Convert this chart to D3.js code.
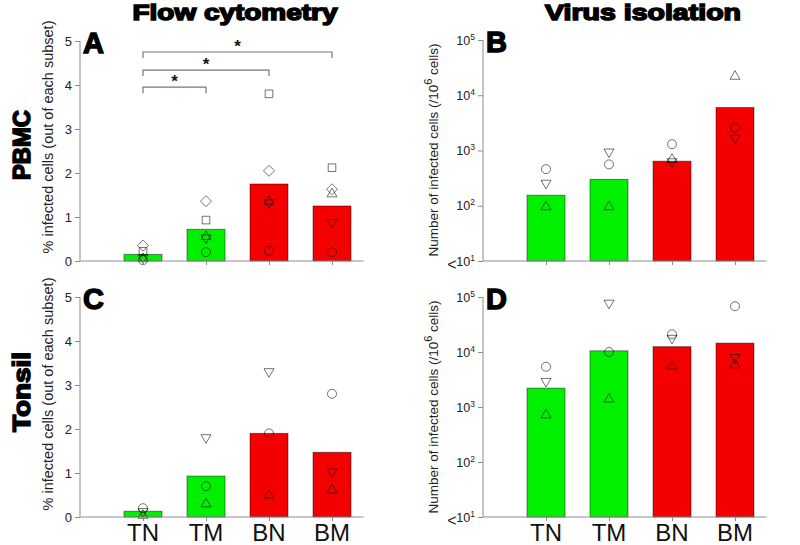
<!DOCTYPE html>
<html>
<head>
<meta charset="utf-8">
<script src="https://cdn.jsdelivr.net/npm/d3@7/dist/d3.min.js"></script>
<style>
  html, body { margin: 0; padding: 0; background: #fff; }
  svg { display: block; font-family: "Liberation Sans", Arial, sans-serif; }
</style>
</head>
<body>
<svg id="chart" width="800" height="545"></svg>
<script>
// ---------------- DATA ----------------
const categories = ["TN", "TM", "BN", "BM"];
const linearTicks = [0, 1, 2, 3, 4, 5];
const logTicks = [10, 100, 1000, 10000, 100000];
const logTickExponents = ["1", "2", "3", "4", "5"];

// Panel A: flow cytometry, PBMC (% infected)
const flowPBMCBars     = [0.15, 0.72, 1.75, 1.25];
const flowPBMCCircle   = [0.02, 0.20, 0.23, 0.20];
const flowPBMCTriUp    = [0.08, 0.58, 1.38, 1.55];
const flowPBMCTriDown  = [0.05, 0.50, 1.30, 0.85];
const flowPBMCSquare   = [0.22, 0.93, 3.80, 2.12];
const flowPBMCDiamond  = [0.35, 1.36, 2.05, 1.63];

// significance brackets in panel A: [from, to, level]
const sigFrom   = [0, 0, 0];
const sigTo     = [1, 2, 3];
const sigLevel  = [3.95, 4.34, 4.75];

// Panel C: flow cytometry, Tonsil
const flowTonsilBars    = [0.13, 0.93, 1.90, 1.47];
const flowTonsilCircle  = [0.20, 0.70, 1.90, 2.80];
const flowTonsilTriUp   = [0.06, 0.32, 0.52, 0.64];
const flowTonsilTriDown = [0.10, 1.78, 3.28, 1.00];

// Panel B: virus isolation, PBMC (per 10^6 cells)
const virusPBMCBars    = [155, 300, 640, 6000];
const virusPBMCCircle  = [460, 560, 1300, 2600];
const virusPBMCTriUp   = [100, 100, 720, 23000];
const virusPBMCTriDown = [245, 900, 600, 1600];

// Panel D: virus isolation, Tonsil
const virusTonsilBars    = [2200, 10500, 12500, 14500];
const virusTonsilCircle  = [5400, 10000, 21000, 68000];
const virusTonsilTriUp   = [750, 1450, 5800, 6100];
const virusTonsilTriDown = [2800, 74000, 17000, 7600];

const barColors = ["#00f000", "#00f000", "#f50000", "#f50000"];

// ---------------- DRAWING ----------------
const svg = d3.select("#chart");
const AXIS_COLOR = "#8c8c8c";
const MARK_STROKE = "rgba(0,0,0,0.55)";

const shapes = {
  circle:   "M4.5,0A4.5,4.5 0 1,1 -4.5,0A4.5,4.5 0 1,1 4.5,0Z",
  square:   "M-3.8,-3.8H3.8V3.8H-3.8Z",
  diamond:  "M0,-5.5L5.5,0L0,5.5L-5.5,0Z",
  triUp:    "M0,-4.6L5,4L-5,4Z",
  triDown:  "M0,4.6L5,-4L-5,-4Z"
};

function drawPanel(cfg) {
  const g = svg.append("g");
  const x = d3.scaleLinear().domain([0, 4.5]).range([cfg.x0, cfg.x0 + 283.5]);
  let y;
  if (cfg.log) {
    y = d3.scaleLog().domain([10, 100000]).range([cfg.yBottom, cfg.yTop]);
  } else {
    y = d3.scaleLinear().domain([0, 5]).range([cfg.yBottom, cfg.yTop]);
  }
  const base = cfg.log ? 10 : 0;
  const barW = 38;

  // bars
  g.selectAll("rect.bar").data(cfg.bars).enter().append("rect")
    .attr("class", "bar")
    .attr("x", (d, i) => x(i + 1) - barW / 2)
    .attr("y", d => y(d))
    .attr("width", barW)
    .attr("height", d => y(base) - y(d))
    .attr("fill", (d, i) => barColors[i])
    .attr("stroke", "rgba(0,0,0,0.45)")
    .attr("stroke-width", 1);

  // markers
  cfg.markers.forEach(m => {
    g.selectAll(null).data(m.values).enter().append("path")
      .attr("d", shapes[m.shape])
      .attr("transform", (d, i) => `translate(${x(i + 1)},${y(d)})`)
      .attr("fill", "none")
      .attr("stroke", MARK_STROKE)
      .attr("stroke-width", 1);
  });

  // y axis
  const yAxis = cfg.log
    ? d3.axisLeft(y).tickValues(logTicks).tickSize(5).tickFormat("")
    : d3.axisLeft(y).tickValues(linearTicks).tickSize(5).tickFormat(d3.format("d"));
  const ya = g.append("g").attr("transform", `translate(${cfg.x0},0)`).call(yAxis);
  ya.select(".domain").attr("stroke", AXIS_COLOR).attr("d", `M0,${cfg.yTop}V${cfg.yBottom}`);
  ya.selectAll(".tick line").attr("stroke", AXIS_COLOR);
  ya.selectAll(".tick text").attr("font-size", 13).attr("fill", "#222")
    .attr("font-family", "Liberation Sans, Arial, sans-serif").attr("x", -8);

  if (cfg.log) {
    logTicks.forEach((t, i) => {
      const tx = g.append("text")
        .attr("x", cfg.x0 - 8)
        .attr("y", y(t) + 4.5)
        .attr("text-anchor", "end")
        .attr("font-size", 12.5)
        .attr("fill", "#222");
      tx.append("tspan").text("10");
      tx.append("tspan").attr("dy", -5).attr("font-size", 8.5).text(logTickExponents[i]);
      if (i === 0) {
        g.append("text")
          .attr("x", cfg.x0 - 31)
          .attr("y", y(t) + 9)
          .attr("text-anchor", "middle")
          .attr("font-size", 16)
          .attr("fill", "#222")
          .text("<");
      }
    });
  }

  // x axis
  const xAxis = d3.axisBottom(x).tickValues([1, 2, 3, 4]).tickSize(4).tickFormat("");
  const xa = g.append("g").attr("transform", `translate(0,${cfg.yBottom})`).call(xAxis);
  xa.select(".domain").attr("stroke", AXIS_COLOR).attr("d", `M${cfg.x0},0H${cfg.x0 + 283.5}`);
  xa.selectAll(".tick line").attr("stroke", AXIS_COLOR);

  if (cfg.showCats) {
    g.selectAll("text.cat").data(categories).enter().append("text")
      .attr("class", "cat")
      .attr("x", (d, i) => x(i + 1))
      .attr("y", cfg.yBottom + 24)
      .attr("text-anchor", "middle")
      .attr("font-size", 24)
      .attr("fill", "#111")
      .text(d => d);
  }

  // panel letter
  g.append("text")
    .attr("x", cfg.x0 + 3)
    .attr("y", cfg.yTop + 12)
    .attr("font-size", 29)
    .attr("font-weight", "bold")
    .attr("stroke", "#000").attr("stroke-width", 1.4)
    .attr("fill", "#000")
    .text(cfg.letter);

  // significance brackets
  if (cfg.sig) {
    sigFrom.forEach((f, i) => {
      const x1 = x(f + 1), x2 = x(sigTo[i] + 1), yy = y(sigLevel[i]);
      g.append("path")
        .attr("d", `M${x1},${yy + 6}V${yy}H${x2}V${yy + 6}`)
        .attr("fill", "none")
        .attr("stroke", "#777")
        .attr("stroke-width", 1.2);
      g.append("text")
        .attr("x", (x1 + x2) / 2)
        .attr("y", yy - 0.5)
        .attr("text-anchor", "middle")
        .attr("font-size", 17)
        .attr("font-weight", "bold")
        .attr("fill", "#111")
        .text("*");
    });
  }
  return { x, y };
}

// Panel A
drawPanel({
  x0: 80, yTop: 41, yBottom: 261, log: false, letter: "A", sig: true, showCats: false,
  bars: flowPBMCBars,
  markers: [
    { shape: "circle", values: flowPBMCCircle },
    { shape: "triUp", values: flowPBMCTriUp },
    { shape: "triDown", values: flowPBMCTriDown },
    { shape: "square", values: flowPBMCSquare },
    { shape: "diamond", values: flowPBMCDiamond }
  ]
});
// Panel C
drawPanel({
  x0: 80, yTop: 297, yBottom: 517, log: false, letter: "C", sig: false, showCats: true,
  bars: flowTonsilBars,
  markers: [
    { shape: "circle", values: flowTonsilCircle },
    { shape: "triUp", values: flowTonsilTriUp },
    { shape: "triDown", values: flowTonsilTriDown }
  ]
});
// Panel B
drawPanel({
  x0: 483, yTop: 40, yBottom: 261, log: true, letter: "B", sig: false, showCats: false,
  bars: virusPBMCBars,
  markers: [
    { shape: "circle", values: virusPBMCCircle },
    { shape: "triUp", values: virusPBMCTriUp },
    { shape: "triDown", values: virusPBMCTriDown }
  ]
});
// Panel D
drawPanel({
  x0: 483, yTop: 297, yBottom: 517, log: true, letter: "D", sig: false, showCats: true,
  bars: virusTonsilBars,
  markers: [
    { shape: "circle", values: virusTonsilCircle },
    { shape: "triUp", values: virusTonsilTriUp },
    { shape: "triDown", values: virusTonsilTriDown }
  ]
});

// Column titles
[["Flow cytometry", 235, 205], ["Virus isolation", 643, 196]].forEach(([t, cx, w]) => {
  svg.append("text")
    .attr("x", cx).attr("y", 20)
    .attr("text-anchor", "middle")
    .attr("font-size", 22)
    .attr("font-weight", "bold")
    .attr("stroke", "#000").attr("stroke-width", 1.5)
    .attr("fill", "#000")
    .attr("textLength", w)
    .attr("lengthAdjust", "spacingAndGlyphs")
    .text(t);
});

// Row titles
[["PBMC", 145, 70], ["Tonsil", 392, 80]].forEach(([t, cy, w]) => {
  svg.append("text")
    .attr("transform", `translate(30,${cy}) rotate(-90)`)
    .attr("text-anchor", "middle")
    .attr("font-size", 23)
    .attr("font-weight", "bold")
    .attr("stroke", "#000").attr("stroke-width", 1.5)
    .attr("fill", "#000")
    .attr("textLength", w)
    .attr("lengthAdjust", "spacingAndGlyphs")
    .text(t);
});

// Left y-axis labels
[137, 394].forEach(cy => {
  svg.append("text")
    .attr("transform", `translate(53,${cy}) rotate(-90)`)
    .attr("text-anchor", "middle")
    .attr("font-size", 14.5)
    .attr("fill", "#222")
    .text("% infected cells (out of each subset)");
});

// Right y-axis labels
[150, 407].forEach(cy => {
  const t = svg.append("text")
    .attr("transform", `translate(438,${cy}) rotate(-90)`)
    .attr("text-anchor", "middle")
    .attr("font-size", 13.5)
    .attr("fill", "#222");
  t.append("tspan").text("Number of infected cells (/10");
  t.append("tspan").attr("dy", -6).attr("font-size", 11).text("6");
  t.append("tspan").attr("dy", 6).text(" cells)");
});
</script>
</body>
</html>
